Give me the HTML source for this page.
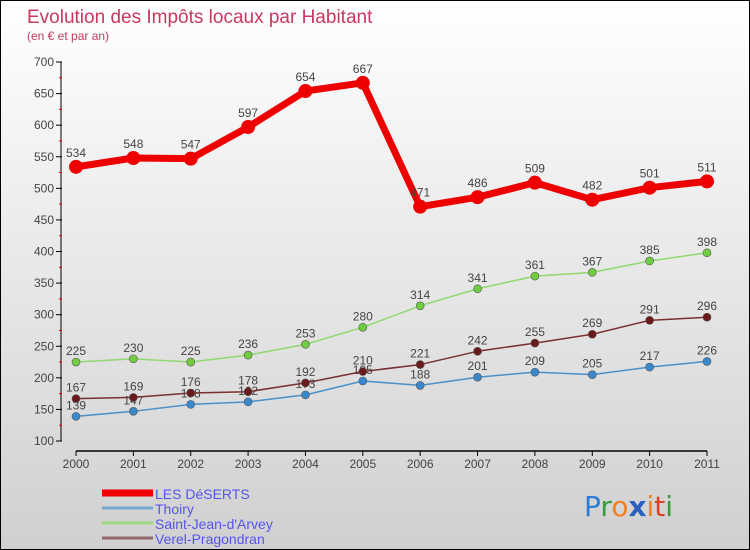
<!DOCTYPE html>
<html><head><meta charset="utf-8"><style>
body{margin:0}
#c{width:750px;height:550px;position:relative;box-sizing:border-box;border:1px solid #000;background:linear-gradient(#fff,#d0d0d0);font-family:"Liberation Sans",sans-serif;overflow:hidden}
svg{position:absolute;left:0;top:0}
</style></head><body>
<div id="c">
<svg id="s" width="750" height="550">
<text x="26" y="22" font-size="19" fill="#c8385f">Evolution des Impôts locaux par Habitant</text>
<text x="26" y="39" font-size="12" fill="#c8385f">(en € et par an)</text>
<text x="583" y="515" font-size="28" font-family="DejaVu Sans"><tspan fill="#2a7fd4">P</tspan><tspan fill="#3a9a3a">r</tspan><tspan fill="#f08020">o</tspan><tspan fill="#2a60c0" font-weight="bold">x</tspan><tspan fill="#f08020">i</tspan><tspan fill="#e04020">t</tspan><tspan fill="#3a9a3a">i</tspan></text>
</svg>
</div>
<script>
const years=["2000","2001","2002","2003","2004","2005","2006","2007","2008","2009","2010","2011"];
const yTicks=[100,150,200,250,300,350,400,450,500,550,600,650,700];
const lesDeserts=[534,548,547,597,654,667,471,486,509,482,501,511];
const thoiry=[139,147,158,162,173,195,188,201,209,205,217,226];
const saintJean=[225,230,225,236,253,280,314,341,361,367,385,398];
const verel=[167,169,176,178,192,210,221,242,255,269,291,296];
const names=["LES DéSERTS","Thoiry","Saint-Jean-d'Arvey","Verel-Pragondran"];
const ns="http://www.w3.org/2000/svg",s=document.getElementById('s');
const X=i=>75+i*(706-75)/11, Y=v=>440-(v-100)*379/600;
function el(t,a,p){const e=document.createElementNS(ns,t);for(const k in a)e.setAttribute(k,a[k]);(p||s).appendChild(e);return e;}
// axes
let e=el('line',{x1:60,y1:Y(700),x2:60,y2:Y(100),stroke:'#000'});

e=el('line',{x1:75,y1:450,x2:706,y2:450,stroke:'#000','stroke-width':1.5});

yTicks.forEach(v=>{el('line',{x1:55,x2:61,y1:Y(v),y2:Y(v),stroke:'#000'});
 if(v<700)el('line',{x1:58,x2:61,y1:Y(v+25),y2:Y(v+25),stroke:'#e00'});
 const t=el('text',{x:53,y:Y(v)+4,'font-size':12,fill:'#444','text-anchor':'end'});t.textContent=v;
 });
years.forEach((y,i)=>{el('line',{x1:X(i),x2:X(i),y1:450,y2:455,stroke:'#000'});
 const t=el('text',{x:X(i),y:467,'font-size':12,fill:'#444','text-anchor':'middle'});t.textContent=y;
 });
const series=[[thoiry,'#4a90c8','#3a88cc',1.5,4],[verel,'#7a3030','#6a1a1a',1.5,4],[saintJean,'#90d870','#70cc40',1.5,4],[lesDeserts,'#ee0000','#ee0000',7,7]];
const sn=['thoiry','verel','saint-jean','les-deserts'];
series.forEach(([d,lc,pc,w,r],k)=>{
 const g=el('g',{});
 el('polyline',{points:d.map((v,i)=>X(i)+','+Y(v)).join(' '),fill:'none',stroke:lc,'stroke-width':w,'stroke-linejoin':'round'},g);
 d.forEach((v,i)=>{const c=el('circle',{cx:X(i),cy:Y(v),r:r,fill:pc,stroke:k==3?'none':'#555','stroke-width':0.6},g);
  
  const t=el('text',{x:X(i),y:Y(v)-(k==3?10:7),'font-size':12,fill:'#444','text-anchor':'middle'},g);t.textContent=v;});
});
// legend
const lc=['#ee0000','#7aaad0','#a0d880','#906868'],lw=[7,3,3,3];
names.forEach((n,i)=>{const y=492+i*15;
 const g=el('g',{});
 el('line',{x1:101,x2:152,y1:y,y2:y,stroke:lc[i],'stroke-width':lw[i]},g);
 const t=el('text',{x:154,y:y+6,'font-size':14,fill:'#5555ee'},g);t.textContent=n;});
</script>
</body></html>
